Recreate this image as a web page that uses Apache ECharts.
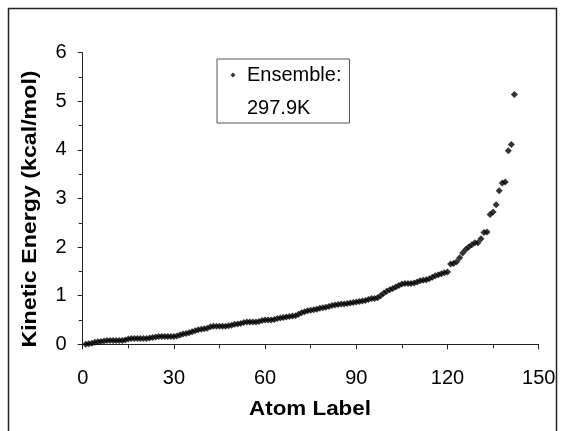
<!DOCTYPE html>
<html>
<head>
<meta charset="utf-8">
<script src="https://cdn.jsdelivr.net/npm/echarts@6/dist/echarts.min.js"></script>
<style>html,body{margin:0;padding:0;background:#fff;}#chart{width:564px;height:431px;}</style>
</head>
<body>
<div id="chart"></div>
<script>
// Atom labels 1..142
var atomLabels = [];
for (var i = 1; i <= 142; i++) atomLabels.push(i);

// Kinetic energy values (kcal/mol)
var kineticEnergy = [
  0.00,0.01,0.02,0.04,0.05,0.06,0.07,0.08,0.08,0.08,
  0.08,0.08,0.08,0.09,0.11,0.12,0.12,0.12,0.12,0.12,
  0.12,0.13,0.14,0.15,0.16,0.16,0.16,0.16,0.16,0.16,
  0.17,0.19,0.21,0.22,0.24,0.26,0.28,0.30,0.31,0.32,
  0.33,0.36,0.37,0.37,0.37,0.37,0.37,0.38,0.39,0.41,
  0.42,0.43,0.45,0.46,0.46,0.46,0.46,0.47,0.49,0.50,
  0.50,0.50,0.51,0.53,0.54,0.55,0.56,0.57,0.58,0.59,
  0.62,0.65,0.67,0.69,0.70,0.71,0.72,0.74,0.75,0.76,
  0.78,0.80,0.81,0.82,0.83,0.83,0.84,0.85,0.86,0.87,
  0.88,0.89,0.90,0.92,0.94,0.94,0.96,1.00,1.05,1.09,
  1.12,1.15,1.18,1.21,1.24,1.25,1.25,1.25,1.26,1.28,
  1.31,1.32,1.33,1.35,1.38,1.41,1.43,1.45,1.47,1.49,
  1.65,1.66,1.70,1.78,1.88,1.95,2.00,2.05,2.09,2.09,
  2.17,2.30,2.31,2.67,2.72,2.87,3.16,3.32,3.34,3.98,
  4.11,5.14
];

var xTicks = [0, 30, 60, 90, 120, 150];
var yTicks = [0, 1, 2, 3, 4, 5, 6];
var seriesName = 'Ensemble:';
var seriesSub = '297.9K';
var xTitle = 'Atom Label';
var yTitle = 'Kinetic Energy (kcal/mol)';

var points = atomLabels.map(function (a, i) { return [a, kineticEnergy[i]]; });

var chart = echarts.init(document.getElementById('chart'), null, {renderer: 'canvas'});
var axisColor = '#222';
var font = 'Liberation Sans, Arial, sans-serif';
chart.setOption({
  animation: false,
  backgroundColor: '#fff',
  grid: {left: 82.7, right: 25.3, top: 52.7, bottom: 86.7, containLabel: false},
  xAxis: {
    type: 'value', min: xTicks[0], max: xTicks[xTicks.length - 1], interval: 30,
    axisLine: {show: true, onZero: false, lineStyle: {color: axisColor, width: 1}},
    axisTick: {show: true, inside: false, length: 5, lineStyle: {color: axisColor}},
    minorTick: {show: true, splitNumber: 2, length: 4, lineStyle: {color: axisColor}},
    splitLine: {show: false},
    axisLabel: {margin: 24, color: '#000', fontSize: 20, fontFamily: font}
  },
  yAxis: {
    type: 'value', min: yTicks[0], max: yTicks[yTicks.length - 1], interval: 1,
    axisLine: {show: true, onZero: false, lineStyle: {color: axisColor, width: 1}},
    axisTick: {show: true, inside: false, length: 5, lineStyle: {color: axisColor}},
    minorTick: {show: true, splitNumber: 2, length: 4, lineStyle: {color: axisColor}},
    splitLine: {show: false},
    axisLabel: {margin: 16, color: '#000', fontSize: 20, fontFamily: font}
  },
  legend: {
    show: true,
    left: 217, top: 59,
    padding: [6, 8, 38, 13.5],
    borderColor: '#555', borderWidth: 1,
    backgroundColor: '#fff',
    icon: 'diamond',
    itemWidth: 5, itemHeight: 5,
    textStyle: {color: '#000', fontSize: 20, fontFamily: font, padding: [0, 0, 0, 6.5]},
    data: [{name: seriesName, itemStyle: {color: '#000'}}]
  },
  series: [{
    name: seriesName,
    type: 'scatter',
    symbol: 'diamond',
    symbolSize: 7,
    itemStyle: {color: '#000'},
    data: points
  }],
  graphic: [
    {type: 'rect', z: -10, silent: true,
     shape: {x: 8.5, y: 8.5, width: 548, height: 500},
     style: {fill: 'none', stroke: '#222', lineWidth: 1.5}},
    {type: 'text', z: 100, x: 247, y: 108,
     style: {text: seriesSub, font: '20px ' + font, fill: '#000', textAlign: 'left', textVerticalAlign: 'middle'}},
    {type: 'text', z: 100, x: 310, y: 409, scaleX: 1.12, scaleY: 1.04,
     style: {text: xTitle, font: 'bold 20px ' + font, fill: '#000', textAlign: 'center', textVerticalAlign: 'middle'}},
    {type: 'text', z: 100, x: 30, y: 209, rotation: Math.PI / 2, scaleX: 1.16, scaleY: 1.04,
     style: {text: yTitle, font: 'bold 20px ' + font, fill: '#000', textAlign: 'center', textVerticalAlign: 'middle'}}
  ]
});
</script>
</body>
</html>
